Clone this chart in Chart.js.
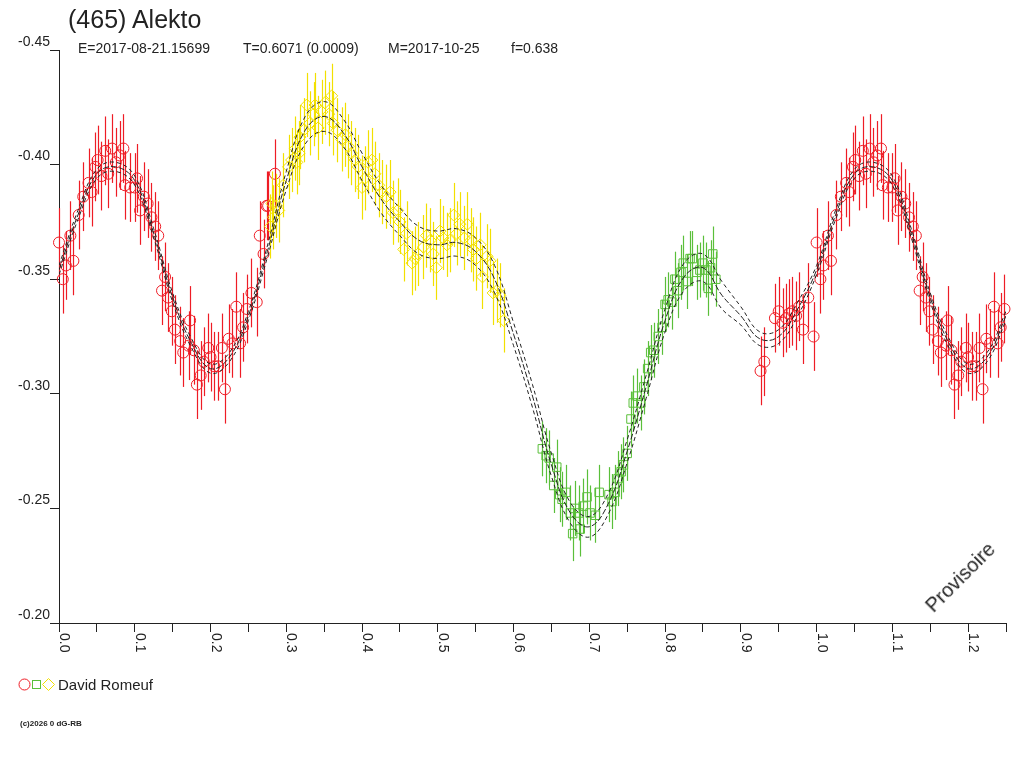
<!DOCTYPE html>
<html>
<head>
<meta charset="utf-8">
<script src="https://cdn.jsdelivr.net/npm/chart.js@4.4.1/dist/chart.umd.min.js"></script>
<style>
body{margin:0;background:#fff;font-family:"Liberation Sans",Arial,sans-serif;color:#222}
#wrap{position:relative;width:1024px;height:768px;overflow:hidden}
canvas{position:absolute;left:0;top:0}
.t{position:absolute;white-space:pre}
#title{left:68px;top:7px;font-size:25px;line-height:25px}
.sub{top:41px;font-size:14px;line-height:14px}
#who{left:58px;top:677px;font-size:15px;line-height:15px}
#copy{left:20px;top:720px;font-size:8px;line-height:8px;font-weight:bold}
#prov{left:960px;top:577px;font-size:20px;line-height:20px;transform:translate(-50%,-50%) rotate(-45deg)}
#sym{position:absolute;left:0;top:670px}
</style>
</head>
<body>
<div id="wrap">
<canvas id="chart" width="1024" height="768"></canvas>
<div class="t" id="title">(465) Alekto</div>
<div class="t sub" style="left:78px">E=2017-08-21.15699</div>
<div class="t sub" style="left:243px">T=0.6071 (0.0009)</div>
<div class="t sub" style="left:388px">M=2017-10-25</div>
<div class="t sub" style="left:511px">f=0.638</div>
<svg id="sym" width="60" height="28">
<circle cx="24.5" cy="14.5" r="5.5" fill="none" stroke="#ee1c25"/>
<rect x="32.5" y="10.5" width="8" height="8" fill="none" stroke="#5abf3a"/>
<polygon points="48.5,8.5 54.5,14.5 48.5,20.5 42.5,14.5" fill="none" stroke="#f2e000"/>
</svg>
<div class="t" id="who">David Romeuf</div>
<div class="t" id="copy">(c)2026 0 dG-RB</div>
<div class="t" id="prov">Provisoire</div>
</div>
<script>
// Fitted curve, read every 0.025 in phase
const curvePhase=[0,0.025,0.05,0.075,0.1,0.125,0.15,0.175,0.2,0.225,0.25,0.275,0.3,0.325,0.35,0.375,0.4,0.425,0.45,0.475,0.5,0.525,0.55,0.575,0.6,0.625,0.65,0.675,0.7,0.725,0.75,0.775,0.8,0.825,0.85,0.875,0.9,0.925,0.95,0.975,1.0];
const curveMag=[-0.354,-0.378,-0.396,-0.399,-0.393,-0.370,-0.342,-0.322,-0.311,-0.316,-0.334,-0.362,-0.393,-0.415,-0.421,-0.414,-0.399,-0.385,-0.375,-0.367,-0.365,-0.366,-0.362,-0.350,-0.326,-0.299,-0.269,-0.248,-0.242,-0.252,-0.275,-0.303,-0.332,-0.351,-0.355,-0.343,-0.334,-0.324,-0.325,-0.337,-0.354];
// half width of the dashed envelope
const curveSpread=[0.002,0.002,0.002,0.002,0.002,0.002,0.002,0.002,0.002,0.002,0.002,0.0025,0.004,0.006,0.0065,0.006,0.006,0.006,0.006,0.006,0.006,0.006,0.006,0.006,0.005,0.005,0.005,0.0045,0.0045,0.0045,0.005,0.005,0.005,0.006,0.006,0.006,0.004,0.003,0.003,0.003,0.002];

// Red circles
const redPhase=[0,0.005,0.009,0.015,0.019,0.026,0.032,0.039,0.043,0.048,0.051,0.056,0.061,0.065,0.070,0.075,0.080,0.085,0.087,0.094,0.100,0.103,0.107,0.112,0.117,0.122,0.127,0.131,0.136,0.140,0.144,0.149,0.153,0.160,0.164,0.171,0.173,0.178,0.182,0.187,0.191,0.197,0.200,0.205,0.210,0.215,0.219,0.224,0.229,0.234,0.239,0.243,0.248,0.254,0.261,0.265,0.270,0.274,0.276,0.285,
0.926,0.931,0.945,0.950,0.955,0.960,0.964,0.968,0.973,0.977,0.982,0.989,0.996];
const redMag=[-0.366,-0.350,-0.356,-0.369,-0.358,-0.378,-0.386,-0.392,-0.388,-0.399,-0.402,-0.395,-0.406,-0.396,-0.407,-0.401,-0.404,-0.407,-0.391,-0.390,-0.390,-0.394,-0.380,-0.386,-0.383,-0.377,-0.373,-0.369,-0.345,-0.351,-0.342,-0.336,-0.328,-0.323,-0.318,-0.321,-0.332,-0.319,-0.304,-0.308,-0.314,-0.320,-0.316,-0.312,-0.312,-0.320,-0.302,-0.324,-0.322,-0.338,-0.322,-0.329,-0.337,-0.344,-0.340,-0.369,-0.361,-0.382,-0.382,-0.396,
-0.310,-0.314,-0.333,-0.336,-0.331,-0.333,-0.335,-0.336,-0.334,-0.338,-0.328,-0.342,-0.325];

// Yellow diamonds
const yellowPhase=[0.279,0.281,0.283,0.287,0.290,0.296,0.303,0.307,0.312,0.314,0.317,0.318,0.323,0.327,0.331,0.336,0.338,0.342,0.347,0.351,0.356,0.360,0.362,0.367,0.373,0.378,0.382,0.386,0.391,0.395,0.400,0.404,0.408,0.413,0.417,0.422,0.426,0.432,0.437,0.441,0.447,0.450,0.455,0.459,0.466,0.470,0.474,0.481,0.485,0.490,0.494,0.498,0.503,0.507,0.512,0.516,0.521,0.525,0.529,0.535,0.539,0.544,0.547,0.551,0.556,0.559,0.565,0.569,0.573,0.578,0.582,0.587];
const yellowMag=[-0.373,-0.383,-0.377,-0.382,-0.380,-0.391,-0.399,-0.402,-0.407,-0.401,-0.405,-0.412,-0.415,-0.426,-0.418,-0.422,-0.426,-0.416,-0.423,-0.427,-0.422,-0.430,-0.418,-0.415,-0.411,-0.413,-0.408,-0.405,-0.402,-0.399,-0.390,-0.394,-0.401,-0.402,-0.396,-0.391,-0.388,-0.386,-0.388,-0.379,-0.380,-0.375,-0.363,-0.370,-0.357,-0.359,-0.361,-0.364,-0.369,-0.367,-0.361,-0.355,-0.371,-0.368,-0.365,-0.367,-0.378,-0.370,-0.374,-0.368,-0.374,-0.367,-0.363,-0.359,-0.365,-0.351,-0.360,-0.358,-0.344,-0.345,-0.343,-0.332];

// Green squares
const greenPhase=[0.638,0.643,0.647,0.653,0.657,0.661,0.664,0.669,0.675,0.678,0.681,0.686,0.688,0.692,0.697,0.701,0.708,0.713,0.726,0.730,0.734,0.738,0.742,0.745,0.750,0.755,0.758,0.763,0.768,0.772,0.777,0.781,0.785,0.791,0.796,0.800,0.804,0.809,0.813,0.817,0.821,0.824,0.829,0.833,0.836,0.842,0.846,0.850,0.854,0.857,0.860,0.863,0.867];
const greenMag=[-0.276,-0.273,-0.272,-0.260,-0.268,-0.256,-0.254,-0.257,-0.248,-0.239,-0.250,-0.248,-0.241,-0.251,-0.255,-0.248,-0.247,-0.257,-0.256,-0.253,-0.257,-0.263,-0.266,-0.269,-0.274,-0.289,-0.296,-0.299,-0.296,-0.303,-0.311,-0.318,-0.319,-0.325,-0.329,-0.339,-0.341,-0.340,-0.350,-0.345,-0.353,-0.357,-0.349,-0.359,-0.359,-0.353,-0.354,-0.357,-0.354,-0.346,-0.355,-0.361,-0.350];

const redErr=0.015, yellowErr=0.014, greenErr=0.012;
const RED="#ee1c25", YELLOW="#f2e000", GREEN="#5abf3a", INK="#222";
const FONT='"Liberation Sans", Arial, sans-serif';

// points, with phases < 0.25 repeated after 1.0
function pts(ph,mag,wrap){
let out=ph.map((p,i)=>({x:p,y:mag[i]}));
if(wrap) ph.forEach((p,i)=>{if(p<=0.25) out.push({x:p+1,y:mag[i]});});
return out;
}
function curve(off){
let out=curvePhase.map((p,i)=>({x:p,y:curveMag[i]+off*curveSpread[i]}));
curvePhase.forEach((p,i)=>{if(i>0&&p<=0.25) out.push({x:p+1,y:curveMag[i]+off*curveSpread[i]});});
return out;
}

// vertical error bars, drawn right after each point set
const errorBars={id:"errorBars",afterDatasetDraw(c,args){
const ds=c.data.datasets[args.index];
if(!ds.err) return;
const ctx=c.ctx,ys=c.scales.y;
ctx.save();ctx.setLineDash([]);ctx.strokeStyle=ds.borderColor;ctx.lineWidth=1.2;
args.meta.data.forEach((pt,j)=>{
const v=ds.data[j].y,px=Math.round(pt.x)+0.5;
ctx.beginPath();ctx.moveTo(px,ys.getPixelForValue(v-ds.err));ctx.lineTo(px,ys.getPixelForValue(v+ds.err));ctx.stroke();
});
ctx.restore();
}};

// x labels written downward under every other tick
const xLabels={id:"xLabels",afterDraw(c){
const s=c.scales.x,ctx=c.ctx;
ctx.save();ctx.font="14px "+FONT;ctx.fillStyle=INK;ctx.textAlign="left";ctx.textBaseline="alphabetic";
s.ticks.forEach(t=>{
const k=Math.round(t.value/0.05);
if(k%2) return;
ctx.save();ctx.translate(s.getPixelForValue(t.value)+1,s.top+10);ctx.rotate(Math.PI/2);
ctx.fillText((k/20).toFixed(1),0,0);ctx.restore();
});
ctx.restore();
}};

const line=(off,dash)=>({data:curve(off),showLine:true,borderColor:INK,borderWidth:1,borderDash:dash,pointRadius:0,tension:0.4,order:0});
const dots=(data,col,style,r,err)=>({data:data,borderColor:col,backgroundColor:"rgba(0,0,0,0)",borderWidth:1,pointStyle:style,pointRadius:r,err:err,clip:false,order:1});

new Chart(document.getElementById("chart"),{
type:"scatter",
data:{datasets:[
line(0,[6,2]),line(-1,[4,3]),line(1,[4,3]),
dots(pts(yellowPhase,yellowMag,false),YELLOW,"rectRot",6,yellowErr),
dots(pts(greenPhase,greenMag,false),GREEN,"rect",6,greenErr),
dots(pts(redPhase,redMag,true),RED,"circle",5.5,redErr)
]},
options:{
responsive:false,animation:false,devicePixelRatio:1,
layout:{padding:{top:50,right:18,left:0,bottom:0}},
plugins:{legend:{display:false},tooltip:{enabled:false}},
scales:{
x:{type:"linear",min:0,max:1.25,
ticks:{stepSize:0.05,display:false},
grid:{drawOnChartArea:false,drawTicks:true,tickLength:9,color:INK},
border:{color:INK},
afterFit:s=>{s.height=145;}},
y:{type:"linear",min:-0.45,max:-0.20,reverse:true,
ticks:{stepSize:0.05,callback:v=>v.toFixed(2),color:INK,font:{size:14,family:FONT},padding:0,labelOffset:-8},
grid:{drawOnChartArea:false,drawTicks:true,tickLength:9,color:INK},
border:{color:INK},
afterFit:s=>{s.width=59;}}
}
},
plugins:[errorBars,xLabels]
});
</script>
</body>
</html>
